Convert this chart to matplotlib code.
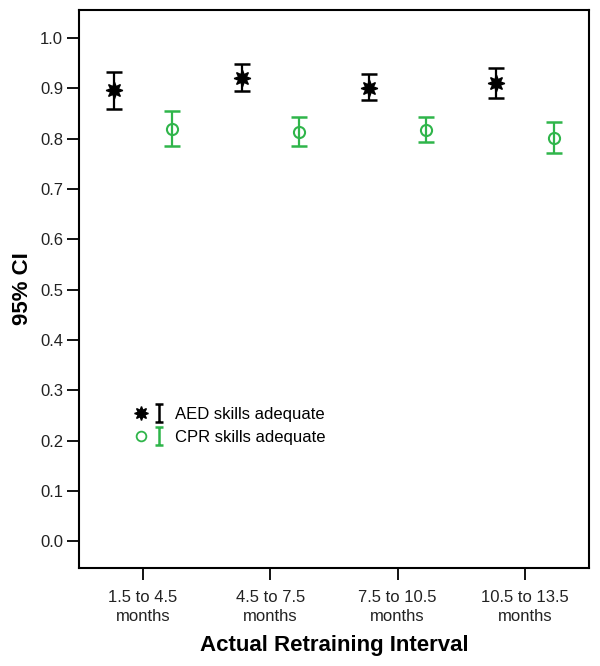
import matplotlib
matplotlib.use("Agg")
import matplotlib.pyplot as plt
import numpy as np
from matplotlib.lines import Line2D
from matplotlib.path import Path
from matplotlib.legend_handler import HandlerTuple

plt.rcParams['font.family'] = ['Liberation Sans', 'DejaVu Sans']

categories = ["1.5 to 4.5\nmonths", "4.5 to 7.5\nmonths", "7.5 to 10.5\nmonths", "10.5 to 13.5\nmonths"]
aed_mean = [0.897, 0.921, 0.901, 0.911]
aed_low = [0.860, 0.895, 0.878, 0.882]
aed_high = [0.933, 0.948, 0.928, 0.941]
cpr_mean = [0.820, 0.814, 0.818, 0.802]
cpr_low = [0.785, 0.785, 0.793, 0.771]
cpr_high = [0.856, 0.843, 0.844, 0.834]
yticks = [0.0, 0.1, 0.2, 0.3, 0.4, 0.5, 0.6, 0.7, 0.8, 0.9, 1.0]

green = '#2fb54a'
fig = plt.figure(figsize=(6.0, 6.66), dpi=100)
ax = fig.add_axes([0.132, 0.147, 0.849, 0.838])

x = np.arange(len(categories))
off = 0.225
aed_m = np.array(aed_mean)
cpr_m = np.array(cpr_mean)
aed_err = [aed_m - np.array(aed_low), np.array(aed_high) - aed_m]
cpr_err = [cpr_m - np.array(cpr_low), np.array(cpr_high) - cpr_m]

star = (8, 1, 0)
ax.errorbar(x - off, aed_m, yerr=aed_err, fmt='none', ecolor='black',
            elinewidth=1.6, capsize=5.8, capthick=1.8, zorder=2)
ax.plot(x - off, aed_m, linestyle='none', marker=star, markersize=12,
        color='black', zorder=3)
ax.errorbar(x + off, cpr_m, yerr=cpr_err, fmt='none', ecolor=green,
            elinewidth=1.6, capsize=5.8, capthick=1.8, zorder=2)
ax.plot(x + off, cpr_m, linestyle='none', marker='o', markersize=8,
        markerfacecolor='none', markeredgecolor=green, markeredgewidth=1.5, zorder=3)

ax.set_xlim(-0.5, 3.5)
ax.set_ylim(-0.053, 1.056)
ax.set_yticks(yticks)
ax.set_yticklabels([f"{v:.1f}" for v in yticks])
ax.set_xticks(x)
ax.set_xticklabels(categories, linespacing=1.33)
ax.tick_params(axis='both', direction='out', length=8.5, width=1.3,
               labelsize=12, colors='black', labelcolor='#222222')
ax.tick_params(axis='y', pad=3)
ax.tick_params(axis='x', pad=7)
for s in ax.spines.values():
    s.set_linewidth(1.5)

ax.set_ylabel("95% CI", fontsize=16, fontweight='bold', labelpad=5)
ax.set_xlabel("Actual Retraining Interval", fontsize=16, fontweight='bold', labelpad=8)

# legend
ibeam = Path([(-0.45, -1), (0.45, -1), (0, -1), (0, 1), (-0.45, 1), (0.45, 1)],
             [Path.MOVETO, Path.LINETO, Path.MOVETO, Path.LINETO, Path.MOVETO, Path.LINETO])
h1a = Line2D([], [], linestyle='none', marker=star, markersize=10, color='black')
h1b = Line2D([], [], linestyle='none', marker=ibeam, markersize=13, markeredgewidth=1.8,
             color='black', markerfacecolor='none')
h2a = Line2D([], [], linestyle='none', marker='o', markersize=7, markerfacecolor='none',
             markeredgecolor=green, markeredgewidth=1.3)
h2b = Line2D([], [], linestyle='none', marker=ibeam, markersize=13, markeredgewidth=1.8,
             color=green, markerfacecolor='none')
leg = ax.legend([(h1a, h1b), (h2a, h2b)], ["AED skills adequate", "CPR skills adequate"],
                handler_map={tuple: HandlerTuple(ndivide=None, pad=0.36)},
                loc='center left', bbox_to_anchor=(0.08, 0.2545), frameon=False,
                fontsize=12, handlelength=1.8, handletextpad=0.6, labelspacing=0.5)

fig.savefig("out.png", dpi=100)
